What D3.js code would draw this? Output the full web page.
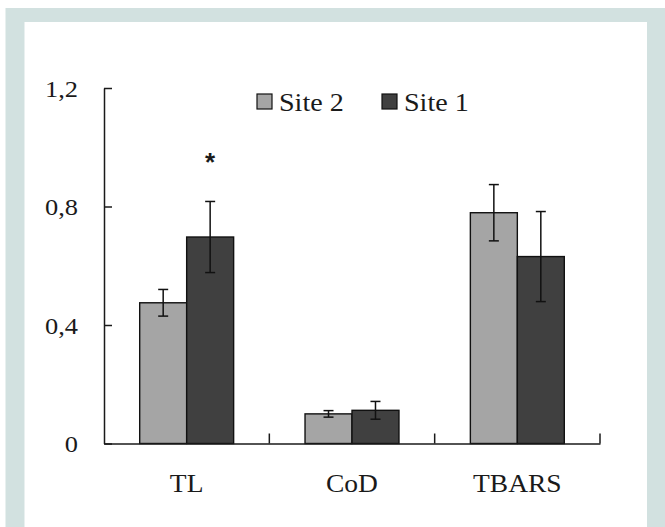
<!DOCTYPE html>
<html>
<head>
<meta charset="utf-8">
<script src="https://cdn.jsdelivr.net/npm/d3@7/dist/d3.min.js"></script>
<style>
  html, body { margin: 0; padding: 0; background: #fff; }
  svg { display: block; }
  text { font-family: "Liberation Serif", "Times New Roman", serif; fill: #1a1a1a; }
</style>
</head>
<body>
<div id="chart"></div>
<script>
// data
const categories = ["TL", "CoD", "TBARS"];
const sites = ["Site 2", "Site 1"];
const site2Mean = [0.475, 0.100, 0.779];
const site2Err = [0.045, 0.011, 0.095];
const site1Mean = [0.697, 0.112, 0.631];
const site1Err = [0.120, 0.030, 0.152];
const site1Mark = ["*", "", ""];
const yTicks = [0, 0.4, 0.8, 1.2];

const width = 665, height = 527;
const colors = { "Site 2": "#a5a5a5", "Site 1": "#404040" };

const rows = [];
categories.forEach((c, i) => {
  rows.push({ cat: c, site: "Site 2", mean: site2Mean[i], err: site2Err[i], mark: "" });
  rows.push({ cat: c, site: "Site 1", mean: site1Mean[i], err: site1Err[i], mark: site1Mark[i] });
});

const svg = d3.select("#chart").append("svg")
  .attr("width", width)
  .attr("height", height);

// frame
svg.append("rect").attr("x", 5.5).attr("y", 8).attr("width", width - 5.5).attr("height", height - 8)
  .attr("fill", "#d2e1e0");
svg.append("rect").attr("x", 24.5).attr("y", 22).attr("width", 647 - 24.5).attr("height", height - 22)
  .attr("fill", "#fff");

const x = d3.scaleBand().domain(categories).range([104, 600]);
const xSub = d3.scaleBand().domain(sites).range([0, x.bandwidth()]).paddingOuter(0.76);
const y = d3.scaleLinear().domain([0, 1.2]).range([443.5, 88]);

const locale = d3.formatLocale({ decimal: ",", thousands: ".", grouping: [3], currency: ["", ""] });
const fmt = locale.format("~g");

// stretch text horizontally like the source image
function stretch(sel, k) {
  sel.each(function () {
    const w = this.getComputedTextLength();
    d3.select(this).attr("textLength", w * k).attr("lengthAdjust", "spacingAndGlyphs");
  });
}

// bars
svg.append("g").selectAll("rect").data(rows).join("rect")
  .attr("x", d => x(d.cat) + xSub(d.site))
  .attr("y", d => y(d.mean))
  .attr("width", xSub.bandwidth())
  .attr("height", d => y(0) - y(d.mean))
  .attr("fill", d => colors[d.site])
  .attr("stroke", "#111")
  .attr("stroke-width", 1.4);

// error bars
const eb = svg.append("g").attr("stroke", "#111").attr("stroke-width", 1.5);
rows.forEach(d => {
  const cx = x(d.cat) + xSub(d.site) + xSub.bandwidth() / 2;
  const y0 = y(d.mean - d.err), y1 = y(d.mean + d.err);
  eb.append("line").attr("x1", cx).attr("x2", cx).attr("y1", y0).attr("y2", y1);
  eb.append("line").attr("x1", cx - 5).attr("x2", cx + 5).attr("y1", y0).attr("y2", y0);
  eb.append("line").attr("x1", cx - 5).attr("x2", cx + 5).attr("y1", y1).attr("y2", y1);
});

// significance marks
svg.append("g").selectAll("text").data(rows.filter(d => d.mark)).join("text")
  .attr("x", d => x(d.cat) + xSub(d.site) + xSub.bandwidth() / 2)
  .attr("y", d => y(d.mean + d.err) - 30)
  .attr("text-anchor", "middle")
  .style("font-family", "'Liberation Sans', Arial, sans-serif")
  .style("font-weight", "bold")
  .style("font-size", "26px")
  .text(d => d.mark);

// y axis
const yAxis = svg.append("g")
  .attr("transform", "translate(104,0)")
  .call(d3.axisLeft(y).tickValues(yTicks).tickFormat(fmt).tickSizeInner(-8).tickSizeOuter(0));
yAxis.selectAll("path, line").attr("stroke", "#1a1a1a").attr("stroke-width", 1.5);
yAxis.selectAll("text")
  .attr("x", -26).attr("dy", 8)
  .style("font-size", "24px")
  .call(stretch, 1.1);

// x axis
const xAxis = svg.append("g")
  .attr("transform", `translate(0,${y(0)})`)
  .call(d3.axisBottom(x).tickSize(0).tickSizeOuter(0));
xAxis.select(".domain").attr("stroke", "#1a1a1a").attr("stroke-width", 1.5);
xAxis.selectAll("text")
  .attr("y", 48.5).attr("dy", 0)
  .style("font-size", "25px")
  .call(stretch, 1.1);
xAxis.selectAll(".sep").data(categories).join("line")
  .attr("class", "sep")
  .attr("x1", d => x(d) + x.bandwidth()).attr("x2", d => x(d) + x.bandwidth())
  .attr("y1", 0).attr("y2", -10)
  .attr("stroke", "#1a1a1a").attr("stroke-width", 1.5);

// legend
const legendX = { "Site 2": 257, "Site 1": 382 };
const lg = svg.append("g").selectAll("g").data(sites).join("g")
  .attr("transform", d => `translate(${legendX[d]},94)`);
lg.append("rect").attr("width", 15).attr("height", 15)
  .attr("fill", d => colors[d]).attr("stroke", "#111").attr("stroke-width", 1.2);
lg.append("text").attr("x", 22).attr("y", 17)
  .style("font-size", "26px")
  .text(d => d)
  .call(stretch, 1.08);
</script>
</body>
</html>
